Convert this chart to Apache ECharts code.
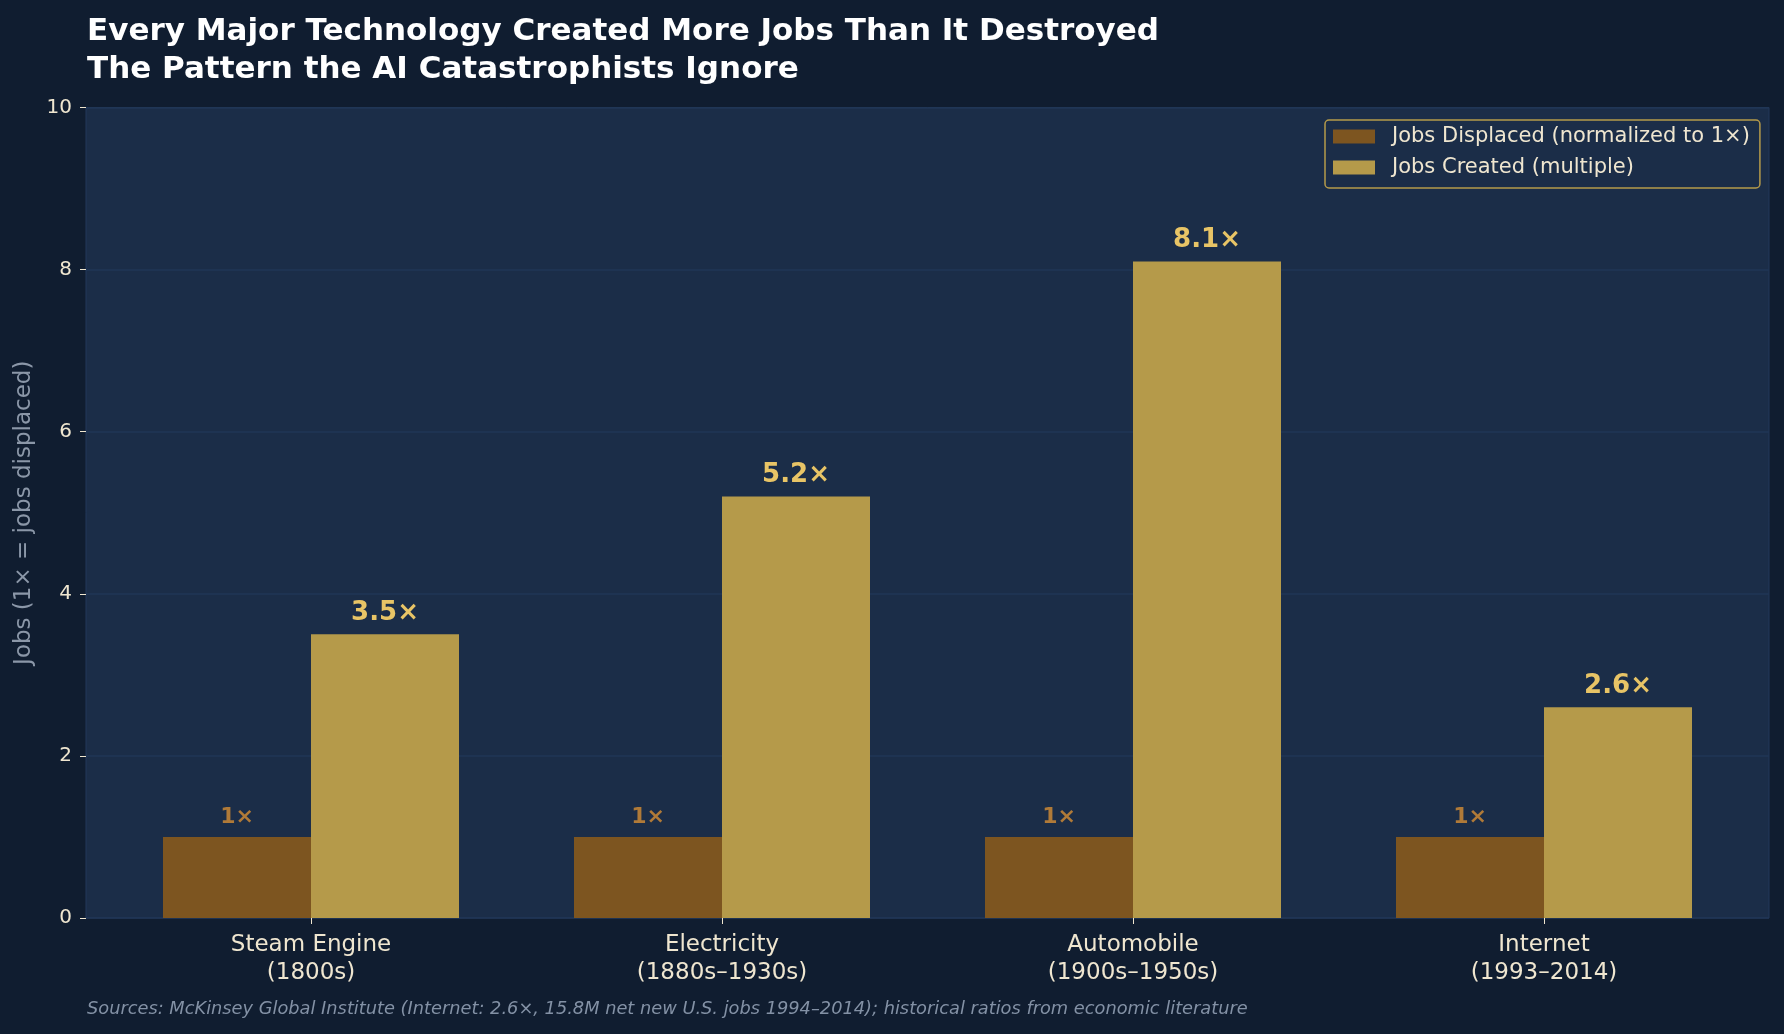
<!DOCTYPE html>
<html>
<head>
<meta charset="utf-8">
<script src="https://cdn.jsdelivr.net/npm/echarts@6/dist/echarts.min.js"></script>
<style>
  html, body { margin: 0; padding: 0; background: #101d30; }
  #chart { width: 1784px; height: 1034px; }
</style>
</head>
<body>
<div id="chart"></div>
<script>
// data
var technologies = ['Steam Engine\n(1800s)', 'Electricity\n(1880s–1930s)', 'Automobile\n(1900s–1950s)', 'Internet\n(1993–2014)'];
var jobsDisplaced = [1, 1, 1, 1];
var jobsCreated = [3.5, 5.2, 8.1, 2.6];
var yTicks = [0, 2, 4, 6, 8, 10];

var cream = '#efe6d0';
var font = 'DejaVu Sans';

var myChart = echarts.init(document.getElementById('chart'));
var option = {
    backgroundColor: '#101d30',
    animation: false,
    textStyle: { fontFamily: font },
    title: [{
        text: 'Every Major Technology Created More Jobs Than It Destroyed\nThe Pattern the AI Catastrophists Ignore',
        left: 87,
        top: 13,
        padding: 0,
        textStyle: { color: '#ffffff', fontSize: 31, fontWeight: 'bold', lineHeight: 38, fontFamily: font }
    }, {
        text: 'Sources: McKinsey Global Institute (Internet: 2.6×, 15.8M net new U.S. jobs 1994–2014); historical ratios from economic literature',
        left: 87,
        top: 1000,
        padding: 0,
        textStyle: { color: '#8391a5', fontSize: 17.8, fontStyle: 'italic', fontWeight: 'normal', fontFamily: font }
    }],
    legend: {
        orient: 'vertical',
        left: 1325,
        top: 120,
        padding: [6, 10, 10, 8],
        itemWidth: 42,
        itemHeight: 14,
        itemGap: 10,
        backgroundColor: '#1b2d48',
        borderColor: '#b59a4a',
        borderWidth: 1.5,
        borderRadius: 4,
        icon: 'rect',
        textStyle: { color: cream, fontSize: 21, lineHeight: 21, padding: [0, 0, 0, 12], fontFamily: font },
        data: ['Jobs Displaced (normalized to 1×)', 'Jobs Created (multiple)']
    },
    grid: [{
        // plot background, spines and y axis
        left: 86, right: 15, top: 107.5, bottom: 116,
        show: true,
        backgroundColor: '#1b2d48',
        borderColor: '#22395a',
        borderWidth: 1
    }, {
        // bars, centres 411px apart
        left: 105.5, right: 34.5, top: 107.5, bottom: 116
    }],
    xAxis: [{
        type: 'value', gridIndex: 0, min: 0, max: 1, show: false
    }, {
        type: 'category',
        gridIndex: 1,
        data: technologies,
        axisLine: { show: false },
        axisTick: { show: true, alignWithLabel: true, length: 6, lineStyle: { color: cream, width: 1 } },
        axisLabel: { color: cream, fontSize: 23, lineHeight: 28, margin: 13, fontFamily: font },
        splitLine: { show: false }
    }],
    yAxis: [{
        type: 'value',
        gridIndex: 0,
        min: yTicks[0],
        max: yTicks[yTicks.length - 1],
        interval: 2,
        name: 'Jobs (1× = jobs displaced)',
        nameLocation: 'middle',
        nameGap: 49,
        nameTextStyle: { color: '#8b97a8', fontSize: 23, fontFamily: font },
        axisLine: { show: false },
        axisTick: { show: true, length: 6, lineStyle: { color: cream, width: 1 } },
        axisLabel: { color: cream, fontSize: 20, margin: 14, fontFamily: font },
        splitLine: { show: true, lineStyle: { color: '#213656', width: 1.5 } }
    }, {
        type: 'value', gridIndex: 1, min: 0, max: 10, show: false
    }],
    series: [{
        name: 'Jobs Displaced (normalized to 1×)',
        type: 'bar',
        xAxisIndex: 1,
        yAxisIndex: 1,
        barWidth: 148,
        barGap: '0%',
        itemStyle: { color: '#7d5520' },
        label: {
            show: true, position: 'top', distance: 9,
            formatter: function (p) { return p.value + '×'; },
            color: '#b07a38', fontSize: 22, fontWeight: 'bold', fontFamily: font
        },
        data: jobsDisplaced
    }, {
        name: 'Jobs Created (multiple)',
        type: 'bar',
        xAxisIndex: 1,
        yAxisIndex: 1,
        barWidth: 148,
        barGap: '0%',
        itemStyle: { color: '#b59a4a' },
        label: {
            show: true, position: 'top', distance: 8,
            formatter: function (p) { return p.value.toFixed(1) + '×'; },
            color: '#e8c466', fontSize: 26, fontWeight: 'bold', fontFamily: font
        },
        data: jobsCreated
    }]
};
myChart.setOption(option);
</script>
</body>
</html>
